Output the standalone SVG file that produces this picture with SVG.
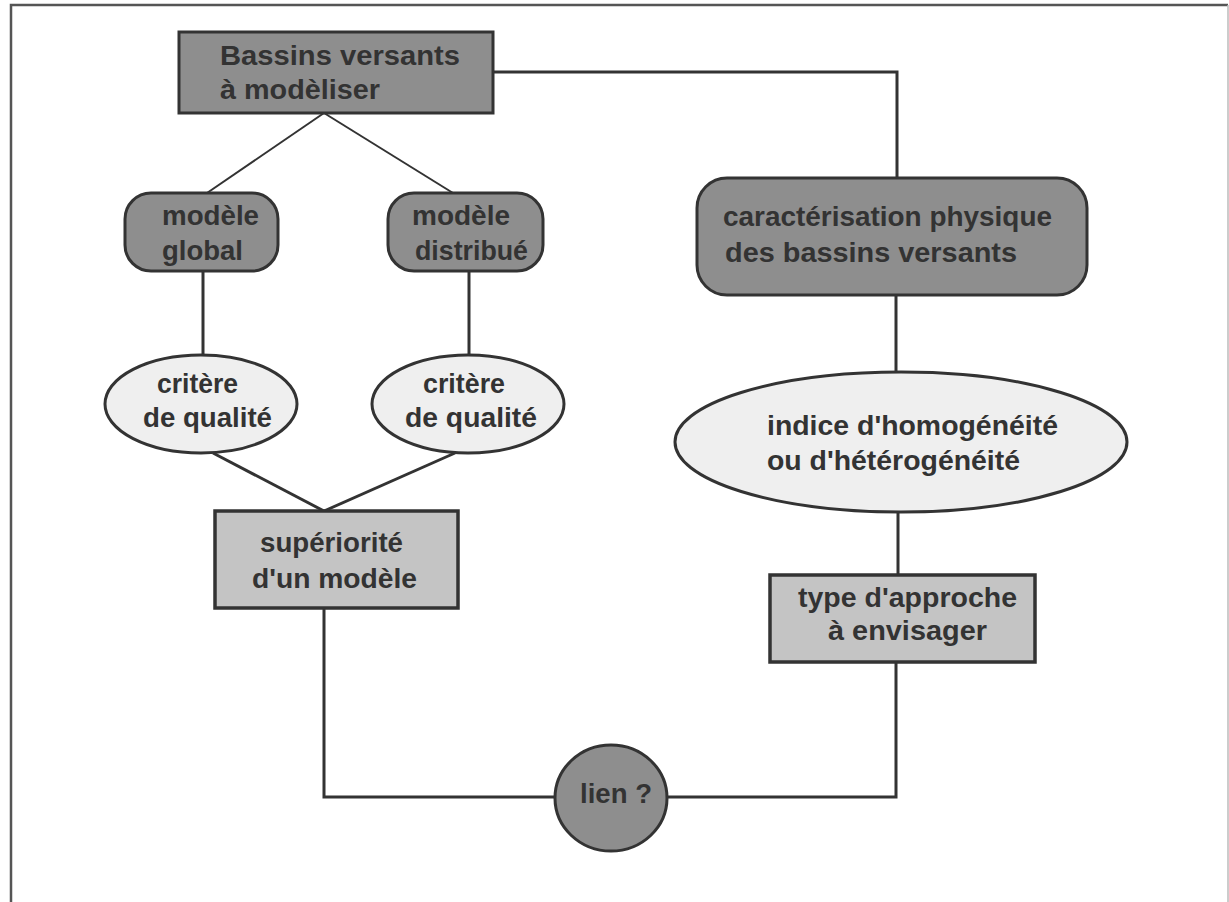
<svg xmlns="http://www.w3.org/2000/svg" width="1229" height="902" viewBox="0 0 1229 902">
<style>
.dark{fill:#8e8e8e;stroke:#333;stroke-width:3}
.light{fill:#c4c4c4;stroke:#333;stroke-width:3.5}
.oval{fill:#efefef;stroke:#333;stroke-width:3}
.conn{fill:none;stroke:#333;stroke-width:3}
.thin{fill:none;stroke:#333;stroke-width:2}
text{font-family:"Liberation Sans",Arial,sans-serif;font-weight:bold;font-size:28px;fill:#333}
</style>
<rect x="0" y="0" width="1229" height="902" fill="#fff"/>
<path d="M11,904 V5 H1228" fill="none" stroke="#555" stroke-width="2.5"/>
<path d="M1228,5 V904" fill="none" stroke="#bbb" stroke-width="1.5"/>
<g id="connectors">
<path class="conn" d="M493,72 H897 V178"/>
<path class="thin" d="M324,113 L207,193"/>
<path class="thin" d="M324,113 L453,193"/>
<path class="conn" d="M203,271 V355"/>
<path class="conn" d="M469,271 V355"/>
<path class="conn" d="M213,453 L324,511"/>
<path class="conn" d="M455,453 L324,511"/>
<path class="conn" d="M324,608 V797 H554"/>
<path class="conn" d="M668,797 H896 V662"/>
<path class="conn" d="M896,295 V372"/>
<path class="conn" d="M898,512 V575"/>
</g>
<g id="bassins">
<rect class="dark" x="179" y="32" width="314" height="81"/>
<text x="220" y="65" textLength="240" lengthAdjust="spacingAndGlyphs">Bassins versants</text>
<text x="220" y="99" textLength="160" lengthAdjust="spacingAndGlyphs">à modèliser</text>
</g>
<g id="modele-global">
<rect class="dark" x="125" y="193" width="153" height="78" rx="26"/>
<text x="162" y="225" textLength="97" lengthAdjust="spacingAndGlyphs">modèle</text>
<text x="162" y="260" textLength="81" lengthAdjust="spacingAndGlyphs">global</text>
</g>
<g id="modele-distribue">
<rect class="dark" x="388" y="193" width="155" height="78" rx="26"/>
<text x="412" y="225" textLength="98" lengthAdjust="spacingAndGlyphs">modèle</text>
<text x="415" y="260" textLength="113" lengthAdjust="spacingAndGlyphs">distribué</text>
</g>
<g id="caracterisation">
<rect class="dark" x="697" y="178" width="390" height="117" rx="30"/>
<text x="723" y="226" textLength="329" lengthAdjust="spacingAndGlyphs">caractérisation physique</text>
<text x="725" y="262" textLength="292" lengthAdjust="spacingAndGlyphs">des bassins versants</text>
</g>
<g id="critere-1">
<ellipse class="oval" cx="201" cy="404" rx="96" ry="49"/>
<text x="157" y="393" textLength="81" lengthAdjust="spacingAndGlyphs">critère</text>
<text x="143" y="427" textLength="129" lengthAdjust="spacingAndGlyphs">de qualité</text>
</g>
<g id="critere-2">
<ellipse class="oval" cx="468" cy="404" rx="96" ry="49"/>
<text x="423" y="393" textLength="82" lengthAdjust="spacingAndGlyphs">critère</text>
<text x="405" y="427" textLength="132" lengthAdjust="spacingAndGlyphs">de qualité</text>
</g>
<g id="indice">
<ellipse class="oval" cx="901" cy="442" rx="226" ry="70"/>
<text x="767" y="435" textLength="291" lengthAdjust="spacingAndGlyphs">indice d'homogénéité</text>
<text x="767" y="470" textLength="253" lengthAdjust="spacingAndGlyphs">ou d'hétérogénéité</text>
</g>
<g id="superiorite">
<rect class="light" x="215" y="511" width="243" height="97"/>
<text x="260" y="552" textLength="143" lengthAdjust="spacingAndGlyphs">supériorité</text>
<text x="252" y="588" textLength="165" lengthAdjust="spacingAndGlyphs">d'un modèle</text>
</g>
<g id="type-approche">
<rect class="light" x="770" y="575" width="265" height="87"/>
<text x="798" y="607" textLength="219" lengthAdjust="spacingAndGlyphs">type d'approche</text>
<text x="828" y="640" textLength="159" lengthAdjust="spacingAndGlyphs">à envisager</text>
</g>
<g id="lien">
<ellipse class="dark" cx="611" cy="798" rx="56" ry="53"/>
<text x="580" y="803" textLength="72" lengthAdjust="spacingAndGlyphs">lien ?</text>
</g>
</svg>
